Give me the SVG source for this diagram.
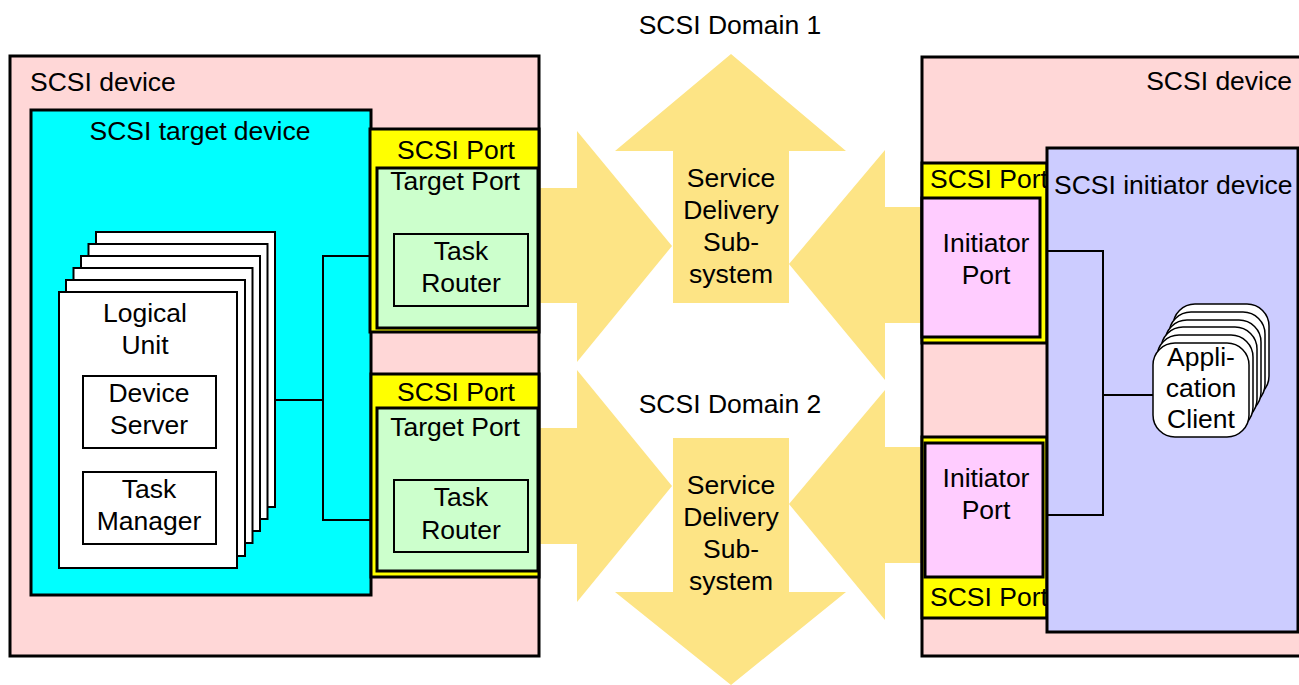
<svg xmlns="http://www.w3.org/2000/svg" width="1299" height="685" viewBox="0 0 1299 685">
<style>
text{font-family:"Liberation Sans",Arial,Helvetica,sans-serif;font-size:26.5px;fill:#000}
.c{text-anchor:middle}
.dev{fill:#FFD7D7;stroke:#000;stroke-width:3}
.tgt{fill:#00FFFF;stroke:#000;stroke-width:3}
.port{fill:#FFFF00;stroke:#000;stroke-width:3}
.tport{fill:#CCFFCC;stroke:#000;stroke-width:3}
.rt{fill:#CCFFCC;stroke:#000;stroke-width:2}
.iport{fill:#FFCCFF;stroke:#000;stroke-width:3}
.init{fill:#CCCCFF;stroke:#000;stroke-width:3}
.page{fill:#fff;stroke:#000;stroke-width:2}
.box{fill:#fff;stroke:#000;stroke-width:2}
.ac{fill:#fff;stroke:#000;stroke-width:1.5}
.arrow{fill:#FDE485}
.wire{fill:none;stroke:#000;stroke-width:2}
</style>
<rect width="1299" height="685" fill="#fff"/>

<g id="service-delivery-arrows">
<path class="arrow" d="M535,188 L577,188 L577,131 L672,246 L577,362 L577,303 L535,303 Z"/>
<path class="arrow" d="M673,303 L673,151 L615,151 L731,54 L846,151 L789,151 L789,303 Z"/>
<path class="arrow" d="M925,207 L885,207 L885,150 L789,264 L885,380 L885,323 L925,323 Z"/>
<path class="arrow" d="M535,428 L577,428 L577,370 L672,486 L577,602 L577,544 L535,544 Z"/>
<path class="arrow" d="M673,438 L789,438 L789,592 L846,592 L731,685 L615,592 L673,592 Z"/>
<path class="arrow" d="M925,447 L885,447 L885,390 L789,504 L885,620 L885,563 L925,563 Z"/>
</g>

<g id="domain1">
<text class="c" x="730" y="34">SCSI Domain 1</text>
<text class="c" x="731" y="187">Service</text>
<text class="c" x="731" y="219">Delivery</text>
<text class="c" x="731" y="251">Sub-</text>
<text class="c" x="731" y="283">system</text>
</g>
<g id="domain2">
<text class="c" x="730" y="413">SCSI Domain 2</text>
<text class="c" x="731" y="494">Service</text>
<text class="c" x="731" y="526">Delivery</text>
<text class="c" x="731" y="558">Sub-</text>
<text class="c" x="731" y="590">system</text>
</g>

<g id="left-scsi-device">
<rect class="dev" x="10" y="56" width="529" height="600"/>
<text x="30" y="91">SCSI device</text>
</g>

<g id="scsi-target-device">
<rect class="tgt" x="31" y="110" width="340" height="485"/>
<text class="c" x="200" y="140">SCSI target device</text>
</g>

<g id="logical-unit">
<rect class="page" x="96" y="232" width="179" height="275"/>
<rect class="page" x="88.5" y="244" width="179" height="275"/>
<rect class="page" x="81" y="256" width="179" height="275"/>
<rect class="page" x="73.5" y="268" width="179" height="275"/>
<rect class="page" x="66" y="280" width="179" height="276"/>
<rect class="page" x="59" y="292" width="178" height="276"/>
<text class="c" x="145" y="322">Logical</text>
<text class="c" x="145" y="354">Unit</text>
</g>

<g id="device-server">
<rect class="box" x="83" y="376" width="133" height="72"/>
<text class="c" x="149" y="402">Device</text>
<text class="c" x="149" y="434">Server</text>
</g>

<g id="task-manager">
<rect class="box" x="83" y="472" width="133" height="72"/>
<text class="c" x="149" y="498">Task</text>
<text class="c" x="149" y="530">Manager</text>
</g>

<g id="target-port-1">
<rect class="port" x="370" y="129" width="169" height="203"/>
<text class="c" x="456" y="159">SCSI Port</text>
<rect class="tport" x="377" y="168" width="161" height="160"/>
<text class="c" x="455" y="190">Target Port</text>
<rect class="rt" x="394" y="234" width="134" height="72"/>
<text class="c" x="461" y="260">Task</text>
<text class="c" x="461" y="292">Router</text>
</g>

<g id="target-port-2">
<rect class="port" x="371" y="374" width="168" height="203"/>
<text class="c" x="456" y="401">SCSI Port</text>
<rect class="tport" x="377" y="408" width="161" height="163"/>
<text class="c" x="455" y="436">Target Port</text>
<rect class="rt" x="394" y="480" width="134" height="72"/>
<text class="c" x="461" y="506">Task</text>
<text class="c" x="461" y="539">Router</text>
</g>

<g id="right-scsi-device">
<rect class="dev" x="922" y="57" width="400" height="599"/>
<text x="1292" y="90" text-anchor="end">SCSI device</text>
</g>

<g id="initiator-port-1">
<rect class="port" x="922" y="163" width="125" height="180"/>
<text x="930" y="188">SCSI Port</text>
<rect class="iport" x="922" y="198" width="118" height="139"/>
<text class="c" x="986" y="252">Initiator</text>
<text class="c" x="986" y="284">Port</text>
</g>

<g id="initiator-port-2">
<rect class="port" x="922" y="437" width="125" height="181"/>
<rect class="iport" x="925" y="443" width="118" height="134"/>
<text class="c" x="986" y="487">Initiator</text>
<text class="c" x="986" y="519">Port</text>
<text x="930" y="606">SCSI Port</text>
</g>

<g id="scsi-initiator-device">
<rect class="init" x="1047" y="148" width="251" height="484"/>
<text x="1054" y="194">SCSI initiator device</text>
</g>

<g id="connectors">
<line class="wire" x1="275" y1="400" x2="323" y2="400"/>
<line class="wire" x1="323" y1="256" x2="323" y2="520"/>
<line class="wire" x1="322" y1="256" x2="370" y2="256"/>
<line class="wire" x1="322" y1="520" x2="371" y2="520"/>
<line class="wire" x1="1047" y1="251" x2="1104" y2="251"/>
<line class="wire" x1="1103" y1="250" x2="1103" y2="516"/>
<line class="wire" x1="1047" y1="515" x2="1104" y2="515"/>
<line class="wire" x1="1103" y1="395" x2="1153" y2="395"/>
</g>

<g id="application-client">
<rect class="ac" x="1173" y="304" width="96" height="94" rx="22"/>
<rect class="ac" x="1169" y="312" width="96" height="94" rx="22"/>
<rect class="ac" x="1165" y="320" width="96" height="94" rx="22"/>
<rect class="ac" x="1161" y="327" width="96" height="94" rx="22"/>
<rect class="ac" x="1157" y="335" width="96" height="94" rx="22"/>
<rect class="ac" x="1153" y="343" width="96" height="94" rx="22"/>
<text class="c" x="1201" y="366">Appli-</text>
<text class="c" x="1201" y="397">cation</text>
<text class="c" x="1201" y="428">Client</text>
</g>
</svg>
